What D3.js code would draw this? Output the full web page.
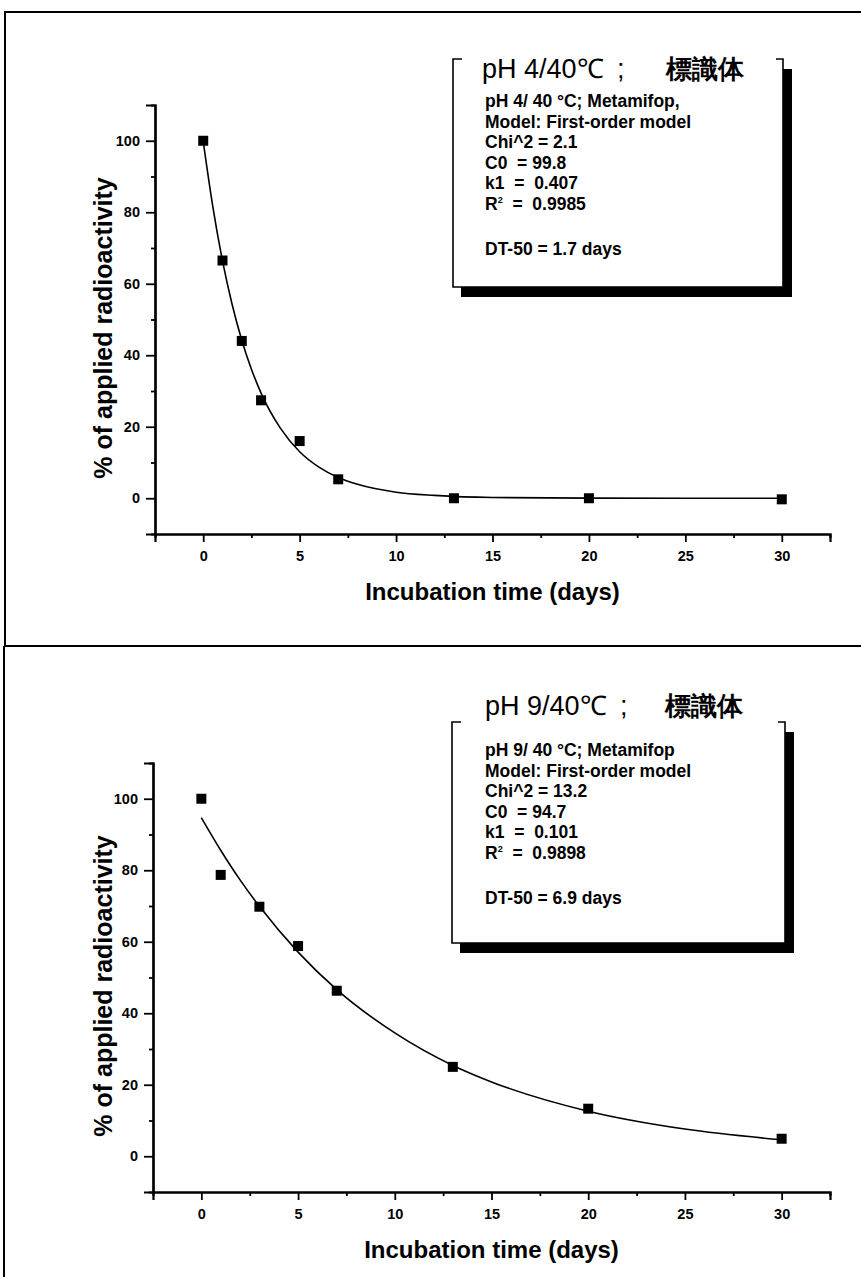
<!DOCTYPE html>
<html>
<head>
<meta charset="utf-8">
<script src="https://cdn.jsdelivr.net/npm/d3@7"></script>
<style>
  body { margin: 0; background: #fff; }
  svg { display: block; }
  text { font-family: "Liberation Sans", Arial, sans-serif; fill: #000; white-space: pre; }
</style>
</head>
<body>
<script>
// pH 4 measurements
const days4 = [0, 1, 2, 3, 5, 7, 13, 20, 30];
const pct4 = [100, 66.5, 44, 27.4, 16, 5.3, 0, 0, -0.3];
// fitted curve
const fitDays4 = [0, 0.5, 1, 1.5, 2, 2.5, 3, 4, 5, 6, 7, 8, 10, 12, 15, 20, 25, 30];
const fitPct4 = [99.8, 81.5, 66.4, 54.2, 44.2, 36.1, 29.4, 19.6, 13.0, 8.7, 5.8, 3.9, 1.7, 0.8, 0.2, 0.03, 0, 0];

// pH 9 measurements
const days9 = [0, 1, 3, 5, 7, 13, 20, 30];
const pct9 = [100, 78.7, 69.8, 58.8, 46.3, 25, 13.3, 4.9];
const fitDays9 = [0, 1, 2, 3, 5, 7, 10, 13, 15, 20, 25, 30];
const fitPct9 = [94.7, 85.6, 77.3, 69.9, 57.1, 46.6, 34.5, 25.4, 20.8, 12.6, 7.6, 4.6];

const xTicks = [0, 5, 10, 15, 20, 25, 30];
const yTicks = [0, 20, 40, 60, 80, 100];

const title4 = ['pH 4/40℃', ';', '標識体'];
const title9 = ['pH 9/40℃', ';', '標識体'];
const legend4 = ['pH 4/ 40 °C; Metamifop,', 'Model: First-order model', 'Chi^2 = 2.1', 'C0  = 99.8', 'k1  =  0.407', 'R²  =  0.9985', '', 'DT-50 = 1.7 days'];
const legend9 = ['pH 9/ 40 °C; Metamifop', 'Model: First-order model', 'Chi^2 = 13.2', 'C0  = 94.7', 'k1  =  0.101', 'R²  =  0.9898', '', 'DT-50 = 6.9 days'];

const W = 861, H = 1277;
const svg = d3.select('body').append('svg').attr('width', W).attr('height', H);

// outer frames
svg.append('path')
  .attr('d', 'M5,645V12H861M4,646H861M4,646V1277')
  .attr('fill', 'none').attr('stroke', '#000').attr('stroke-width', 2);

const drawPanel = (p) => {
  const g = svg.append('g');
  const x = d3.scaleLinear().domain([-2.5, 32.5]).range([p.left, 830]);
  const y = d3.scaleLinear().domain([-10, 110]).range([p.bottom, p.bottom - 429]);

  // x axis
  g.append('g').attr('transform', `translate(0,${p.bottom})`)
    .call(d3.axisBottom(x).tickValues(xTicks).tickSize(8).tickPadding(9).tickFormat(d3.format('d')));
  g.append('g').attr('transform', `translate(0,${p.bottom})`)
    .call(d3.axisBottom(x).tickValues(d3.range(2.5, 30, 5)).tickSize(4).tickFormat(''));
  // y axis
  g.append('g').attr('transform', `translate(${p.left},0)`)
    .call(d3.axisLeft(y).tickValues(yTicks).tickSize(9).tickPadding(6).tickFormat(d3.format('d')));
  g.append('g').attr('transform', `translate(${p.left},0)`)
    .call(d3.axisLeft(y).tickValues(d3.range(10, 100, 20)).tickSize(4).tickFormat(''));

  g.selectAll('.domain').attr('stroke', '#000').attr('stroke-width', 2.2);
  g.selectAll('.tick line').attr('stroke', '#000').attr('stroke-width', 1.8);
  g.selectAll('.tick text').attr('font-family', '"Liberation Sans", Arial, sans-serif')
    .attr('font-weight', 'bold').attr('font-size', 14.5).attr('fill', '#000');

  g.append('text')
    .attr('x', (p.left + 830) / 2).attr('y', p.bottom + 66)
    .attr('text-anchor', 'middle').attr('font-weight', 'bold').attr('font-size', 24)
    .text('Incubation time (days)');
  g.append('text')
    .attr('transform', `translate(112,${p.bottom - 206}) rotate(-90)`)
    .attr('text-anchor', 'middle').attr('font-weight', 'bold').attr('font-size', 25)
    .text('% of applied radioactivity');

  // fitted curve
  const line = d3.line().x(d => x(d[0])).y(d => y(d[1])).curve(d3.curveMonotoneX);
  g.append('path')
    .datum(d3.zip(p.fitDays, p.fitPct))
    .attr('d', line)
    .attr('fill', 'none').attr('stroke', '#000').attr('stroke-width', 1.6);

  // measured points
  g.selectAll('rect.pt')
    .data(d3.zip(p.days, p.pct))
    .enter().append('rect')
    .attr('class', 'pt')
    .attr('x', d => x(d[0]) - 5).attr('y', d => y(d[1]) - 5)
    .attr('width', 10).attr('height', 10)
    .attr('fill', '#000');

  // legend box with shadow
  const b = p.box;
  g.append('rect').attr('x', b.l + 8).attr('y', b.t + 10)
    .attr('width', b.r - b.l + 1).attr('height', b.b - b.t).attr('fill', '#000');
  g.append('rect').attr('x', b.l).attr('y', b.t)
    .attr('width', b.r - b.l).attr('height', b.b - b.t).attr('fill', '#fff');
  g.append('path')
    .attr('d', `M${b.l + 9},${b.t}H${b.l}V${b.b}H${b.r}V${b.t}H${b.r - 7}`)
    .attr('fill', 'none').attr('stroke', '#000').attr('stroke-width', 1.6);

  g.append('text').attr('x', p.titleX[0]).attr('y', p.titleY)
    .attr('font-size', 27).text(p.title[0]);
  g.append('text').attr('x', p.titleX[1]).attr('y', p.titleY)
    .attr('font-size', 27).text(p.title[1]);
  g.append('text').attr('x', p.titleX[2]).attr('y', p.titleY)
    .attr('font-family', '"Noto Sans CJK JP", sans-serif').attr('font-weight', 'bold')
    .attr('font-size', 26).text(p.title[2]);

  const lines = g.append('g');
  p.legend.forEach((s, i) => {
    const ty = p.legendY + i * 20.5 + (i > 6 ? 4 : 0);
    const t = lines.append('text').attr('x', 485).attr('y', ty)
      .attr('font-weight', 'bold').attr('font-size', 17.5);
    if (s.startsWith('R²')) {
      t.append('tspan').text('R');
      t.append('tspan').attr('font-size', 9).attr('dy', -7).text('2');
      t.append('tspan').attr('dy', 7).text(s.slice(2));
    } else {
      t.text(s);
    }
  });
};

drawPanel({
  left: 155, bottom: 534,
  days: days4, pct: pct4, fitDays: fitDays4, fitPct: fitPct4,
  box: { l: 453, t: 59, r: 783, b: 287 },
  title: title4, titleX: [482, 617, 666], titleY: 78,
  legend: legend4, legendY: 107
});
drawPanel({
  left: 153, bottom: 1192,
  days: days9, pct: pct9, fitDays: fitDays9, fitPct: fitPct9,
  box: { l: 452, t: 722, r: 785, b: 943 },
  title: title9, titleX: [485, 620, 665], titleY: 715,
  legend: legend9, legendY: 756
});
</script>
</body>
</html>
